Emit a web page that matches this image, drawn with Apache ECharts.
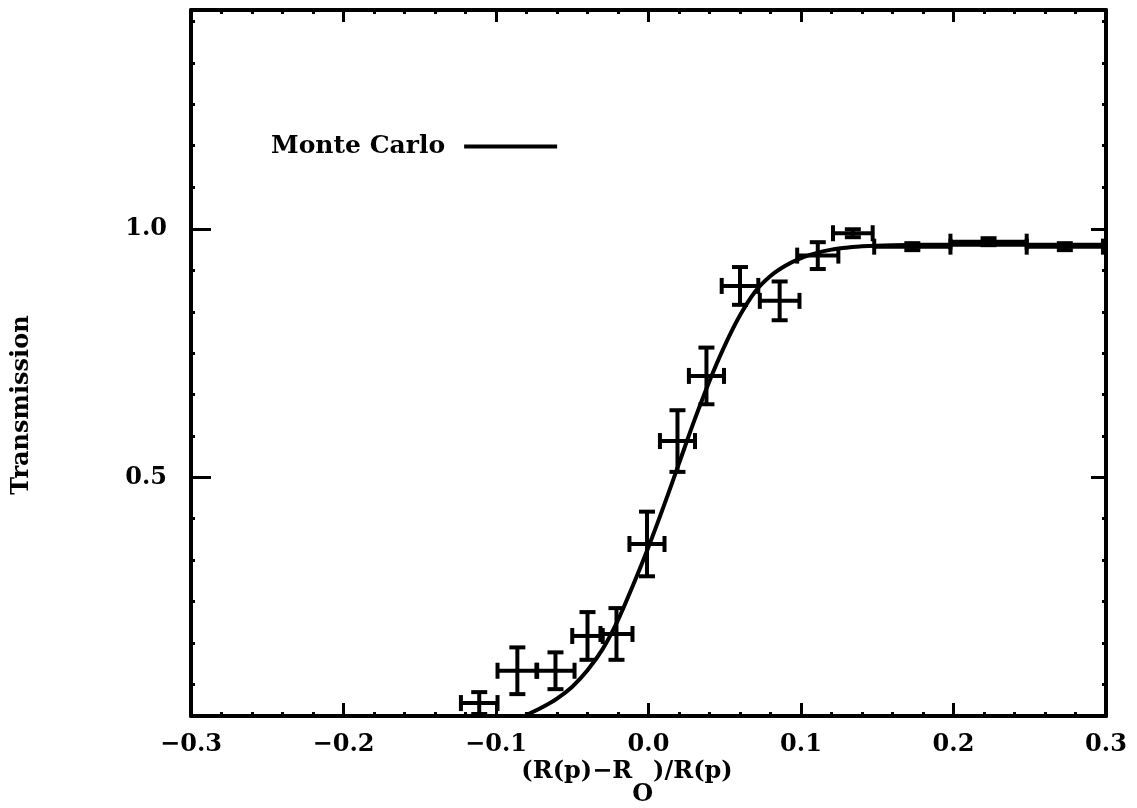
<!DOCTYPE html>
<html>
<head>
<meta charset="utf-8">
<script src="https://cdn.jsdelivr.net/npm/echarts@6/dist/echarts.min.js"></script>
<style>
html,body{margin:0;padding:0;background:#fff;}
#chart{width:1137px;height:808px;}
</style>
</head>
<body>
<div id="chart"></div>
<script>
// ---- data ----
const pointX = [-0.111, -0.086, -0.061, -0.040, -0.021, -0.001, 0.019, 0.038, 0.060, 0.086, 0.111, 0.134, 0.173, 0.223, 0.273];
const pointY = [0.046, 0.111, 0.111, 0.181, 0.185, 0.366, 0.573, 0.704, 0.885, 0.855, 0.946, 0.991, 0.964, 0.974, 0.964];
const pointXErr = [0.012, 0.013, 0.0125, 0.010, 0.0105, 0.0115, 0.0115, 0.0115, 0.012, 0.013, 0.0135, 0.013, 0.025, 0.025, 0.025];
const pointYErr = [0.022, 0.047, 0.037, 0.048, 0.052, 0.065, 0.062, 0.057, 0.038, 0.039, 0.027, 0.008, 0.007, 0.007, 0.007];

const curveX = [-0.09, -0.08, -0.07, -0.06, -0.05, -0.04, -0.03, -0.02, -0.01, 0.0, 0.01, 0.02, 0.03, 0.04, 0.05, 0.06, 0.07, 0.08, 0.09, 0.10, 0.11, 0.12, 0.13, 0.14, 0.16, 0.20, 0.30];
const curveY = [0.008, 0.022, 0.037, 0.055, 0.079, 0.112, 0.155, 0.213, 0.284, 0.36, 0.442, 0.528, 0.614, 0.694, 0.765, 0.826, 0.874, 0.905, 0.926, 0.941, 0.951, 0.958, 0.962, 0.965, 0.967, 0.968, 0.968];

const yLabelTicks = [0.5, 1.0];
const yMinorTicks = [0.083, 0.167, 0.25, 0.333, 0.417, 0.583, 0.667, 0.75, 0.833, 0.917, 1.083, 1.167, 1.25, 1.333, 1.417];

const seriesName = 'Monte Carlo';
const xTitle = '(R(p)\u2212R{sub|O})/R(p)';
const yTitle = 'Transmission';

// ---- chart ----
const FONT = 'DejaVu Serif';
const chart = echarts.init(document.getElementById('chart'), null, {renderer: 'canvas'});

function fmt(v) {
  const s = Math.abs(v).toFixed(1);
  return (v < -1e-9 ? '\u2212' : '') + s;
}

const lineW = 4;
const baseX = {type: 'value', min: -0.3, max: 0.3, splitLine: {show: false}};
const baseY = {type: 'value', min: 0.02, max: 1.44, splitLine: {show: false}};
const labelFont = {color: '#000', fontFamily: FONT, fontWeight: 'bold', fontSize: 24};

const xAxes = [
  Object.assign({}, baseX, {
    position: 'bottom', interval: 0.1,
    axisLine: {show: true, onZero: false, lineStyle: {color: '#000', width: lineW}},
    axisTick: {show: true, inside: true, length: 13, lineStyle: {color: '#000', width: 3}},
    axisLabel: Object.assign({show: true, margin: 17, formatter: fmt}, labelFont)
  }),
  Object.assign({}, baseX, {
    position: 'bottom', interval: 0.02,
    axisLine: {show: false, onZero: false},
    axisTick: {show: true, inside: true, length: 4, lineStyle: {color: '#000', width: 3}},
    axisLabel: {show: false}
  }),
  Object.assign({}, baseX, {
    position: 'top', interval: 0.1,
    axisLine: {show: true, onZero: false, lineStyle: {color: '#000', width: lineW}},
    axisTick: {show: true, inside: true, length: 12, lineStyle: {color: '#000', width: 3}},
    axisLabel: {show: false}
  }),
  Object.assign({}, baseX, {
    position: 'top', interval: 0.02,
    axisLine: {show: false, onZero: false},
    axisTick: {show: true, inside: true, length: 4, lineStyle: {color: '#000', width: 3}},
    axisLabel: {show: false}
  })
];

const yAxes = [
  Object.assign({}, baseY, {
    position: 'left',
    axisLine: {show: true, onZero: false, lineStyle: {color: '#000', width: lineW}},
    axisTick: {show: true, inside: true, length: 20, customValues: yLabelTicks, lineStyle: {color: '#000', width: 3}},
    axisLabel: Object.assign({show: true, margin: 24, customValues: yLabelTicks, formatter: fmt}, labelFont)
  }),
  Object.assign({}, baseY, {
    position: 'left',
    axisLine: {show: false, onZero: false},
    axisTick: {show: true, inside: true, length: 4, customValues: yMinorTicks, lineStyle: {color: '#000', width: 3}},
    axisLabel: {show: false}
  }),
  Object.assign({}, baseY, {
    position: 'right',
    axisLine: {show: true, onZero: false, lineStyle: {color: '#000', width: lineW}},
    axisTick: {show: true, inside: true, length: 15, customValues: yLabelTicks, lineStyle: {color: '#000', width: 3}},
    axisLabel: {show: false}
  }),
  Object.assign({}, baseY, {
    position: 'right',
    axisLine: {show: false, onZero: false},
    axisTick: {show: true, inside: true, length: 4, customValues: yMinorTicks, lineStyle: {color: '#000', width: 3}},
    axisLabel: {show: false}
  })
];

const errData = pointX.map((x, i) => [x, pointY[i], pointXErr[i], pointYErr[i]]);
const curveData = curveX.map((x, i) => [x, curveY[i]]);

function renderErr(params, api) {
  const x = api.value(0), y = api.value(1), ex = api.value(2), ey = api.value(3);
  const c = api.coord([x, y]);
  const l = api.coord([x - ex, y]);
  const r = api.coord([x + ex, y]);
  const t = api.coord([x, y + ey]);
  const b = api.coord([x, y - ey]);
  const cap = 8;
  const st = {stroke: '#000', lineWidth: 4, lineCap: 'butt'};
  const mk = (x1, y1, x2, y2) => ({type: 'line', shape: {x1, y1, x2, y2}, style: st});
  return {
    type: 'group',
    children: [
      mk(l[0], c[1], r[0], c[1]),
      mk(c[0], t[1], c[0], b[1]),
      mk(l[0], c[1] - cap, l[0], c[1] + cap),
      mk(r[0], c[1] - cap, r[0], c[1] + cap),
      mk(c[0] - cap, t[1], c[0] + cap, t[1]),
      mk(c[0] - cap, b[1], c[0] + cap, b[1])
    ]
  };
}

const option = {
  backgroundColor: '#fff',
  animation: false,
  grid: {left: 191, right: 31, top: 10, bottom: 92, containLabel: false},
  legend: {
    show: true, data: [seriesName], left: 266, top: 129, align: 'right',
    icon: 'rect', itemWidth: 93, itemHeight: 4,
    textStyle: {color: '#000', fontFamily: FONT, fontWeight: 'bold', fontSize: 25, padding: [0, 14, 0, 0]}
  },
  xAxis: xAxes,
  yAxis: yAxes,
  graphic: [
    {
      type: 'text', x: 22, y: 405, rotation: Math.PI / 2,
      style: {text: yTitle, textAlign: 'center', textVerticalAlign: 'middle', fill: '#000',
        font: 'bold 24px "DejaVu Serif"'}
    },
    {
      type: 'text', x: 627, y: 772,
      style: {
        text: xTitle, textAlign: 'center', textVerticalAlign: 'middle', fill: '#000',
        font: 'bold 24px "DejaVu Serif"',
        rich: {
          sub: {fontFamily: FONT, fontWeight: 'bold', fontSize: 24, fill: '#000', padding: [46, 0, 0, 0]}
        }
      }
    }
  ],
  series: [
    {
      name: seriesName, type: 'line', data: curveData, xAxisIndex: 0, yAxisIndex: 0,
      showSymbol: false, smooth: 0.3, clip: true,
      lineStyle: {color: '#000', width: 4}, itemStyle: {color: '#000'}, z: 3
    },
    {
      name: 'data', type: 'custom', data: errData, xAxisIndex: 0, yAxisIndex: 0,
      renderItem: renderErr, clip: true, z: 4,
      encode: {x: 0, y: 1}
    }
  ]
};
chart.setOption(option);
</script>
</body>
</html>
